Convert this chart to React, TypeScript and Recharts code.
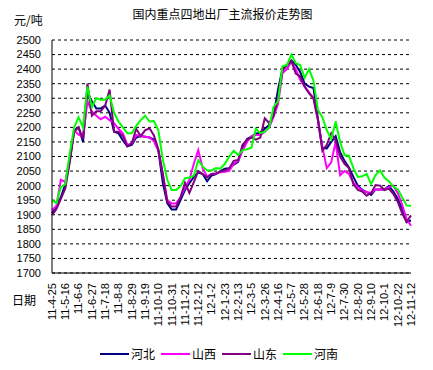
import React from 'react';
import { LineChart, Line, XAxis, YAxis, CartesianGrid } from 'recharts';

const title = '国内重点四地出厂主流报价走势图';
const yUnit = '元/吨';
const xName = '日期';

// weekly categories starting 2011-04-25
const dates: string[] = Array.from({ length: 82 }, (_, i) => {
  const d = new Date(2011, 3, 25 + 7 * i);
  return `${d.getFullYear() % 100}-${d.getMonth() + 1}-${d.getDate()}`;
});

const tickLabels = [
  '11-4-25', '11-5-16', '11-6-6', '11-6-27', '11-7-18', '11-8-8', '11-8-29', '11-9-19',
  '11-10-10', '11-10-31', '11-11-21', '11-12-12', '12-1-2', '12-1-23', '12-2-13', '12-3-5',
  '12-3-26', '12-4-16', '12-5-7', '12-5-28', '12-6-18', '12-7-9', '12-7-30', '12-8-20',
  '12-9-10', '12-10-1', '12-10-22', '12-11-12',
];

const yTicks = [1700, 1750, 1800, 1850, 1900, 1950, 2000, 2050, 2100, 2150, 2200, 2250, 2300, 2350, 2400, 2450, 2500];

const hebei = [
  1905, 1928, 1960, 2005, 2085, 2190, 2200, 2150, 2320, 2290, 2265, 2265, 2275, 2250, 2185, 2180,
  2155, 2135, 2140, 2165, 2170, 2168, 2165, 2158, 2120, 2010, 1940, 1918, 1918, 1950, 1985, 2008,
  2030, 2045, 2040, 2015, 2035, 2040, 2050, 2058, 2060, 2072, 2082, 2130, 2160, 2168, 2178, 2182,
  2195, 2208, 2240, 2330, 2400, 2415, 2430, 2415, 2390, 2350, 2340, 2335, 2230, 2130, 2128, 2150,
  2170, 2115, 2085, 2062, 2030, 2000, 1985, 1978, 1968, 1987, 1987, 1987, 1998, 1980, 1955, 1920,
  1875, 1880,
];

const shanxi = [
  1916, 1930, 2020, 2013, 2095, 2190, 2175, 2168, 2290, 2255, 2240, 2228, 2237, 2225, 2214, 2195,
  2180, 2140, 2145, 2174, 2170, 2168, 2166, 2152, 2120, 2040, 1950, 1939, 1939, 1960, 1993, 2020,
  2075, 2122, 2060, 2031, 2040, 2042, 2046, 2048, 2051, 2075, 2085, 2120, 2150, 2170, 2174, 2174,
  2185, 2200, 2237, 2280, 2386, 2400, 2425, 2400, 2363, 2340, 2320, 2300, 2225, 2134, 2060, 2080,
  2150, 2036, 2050, 2040, 2010, 1995, 1983, 1978, 1975, 1987, 1987, 1987, 1995, 2000, 1975, 1935,
  1885, 1862,
];

const shandong = [
  1899, 1920, 1955, 1990, 2080, 2185, 2200, 2160, 2350, 2240, 2255, 2255, 2275, 2330, 2185, 2185,
  2170, 2135, 2145, 2195, 2170, 2190, 2197, 2172, 2125, 2040, 1945, 1928, 1928, 1960, 2010, 1975,
  2012, 2050, 2040, 2028, 2040, 2042, 2048, 2052, 2060, 2085, 2088, 2140, 2157, 2165, 2158, 2165,
  2231, 2215, 2240, 2300, 2395, 2412, 2428, 2385, 2375, 2340, 2317, 2300, 2225, 2120, 2140, 2180,
  2155, 2100, 2075, 2060, 2005, 1985, 1980, 1965, 1975, 2002, 2000, 1985, 1990, 1972, 1945, 1905,
  1875, 1898,
];

const henan = [
  1950, 1940, 1995, 2005, 2110, 2200, 2235, 2200, 2340, 2270, 2300, 2295, 2295, 2310, 2250, 2220,
  2200, 2180, 2180, 2205, 2225, 2240, 2220, 2222, 2190, 2090, 2020, 1985, 1985, 1998, 2025, 2028,
  2035, 2088, 2065, 2052, 2052, 2060, 2058, 2075, 2100, 2120, 2105, 2122, 2125, 2130, 2195, 2180,
  2185, 2200, 2270, 2290, 2410, 2414, 2450, 2420, 2414, 2370, 2400, 2360, 2260, 2235, 2190, 2160,
  2220, 2150, 2105, 2102, 2060, 2030, 2032, 2040, 2005, 2036, 2052, 2028, 2015, 1996, 1988, 1960,
  1932, 1930,
];

const seriesNames = ['河北', '山西', '山东', '河南'];
const seriesColors = ['#000080', '#FF00FF', '#800080', '#00FF00'];

const data = dates.map((date, i) => ({
  date,
  hebei: hebei[i],
  shanxi: shanxi[i],
  shandong: shandong[i],
  henan: henan[i],
}));

const keys = ['hebei', 'shanxi', 'shandong', 'henan'];
const font = 'Arial, "Liberation Sans", sans-serif';
const cjk = '"Noto Sans CJK SC", sans-serif';

const XTick = (props: any) => {
  const { x, y, payload } = props;
  return (
    <text
      x={x}
      y={y}
      transform={`rotate(-90, ${x}, ${y})`}
      textAnchor="end"
      dy="0.35em"
      fontSize={11}
      fontFamily={font}
      fill="#000"
    >
      {payload.value}
    </text>
  );
};

export default function App() {
  return (
    <div style={{ position: 'absolute', left: 0, top: 0, width: 433, height: 370, background: '#fff' }}>
      <div style={{ position: 'absolute', left: 0, width: 445, top: 6, textAlign: 'center', fontFamily: cjk, fontSize: 12, lineHeight: '16px', color: '#000' }}>
        {title}
      </div>
      <div style={{ position: 'absolute', left: 14, top: 12, fontFamily: cjk, fontSize: 12, lineHeight: '16px', color: '#000' }}>
        {yUnit}
      </div>
      <div style={{ position: 'absolute', left: 12, top: 292, fontFamily: cjk, fontSize: 12, lineHeight: '16px', color: '#000' }}>
        {xName}
      </div>
      <LineChart width={433} height={370} data={data} margin={{ top: 40, right: 22, left: 0, bottom: 0 }}>
        <CartesianGrid vertical={false} stroke="#000" strokeDasharray="3 3" />
        <XAxis
          dataKey="date"
          ticks={tickLabels}
          interval={0}
          tick={<XTick />}
          tickLine={false}
          tickSize={0}
          tickMargin={10}
          axisLine={{ stroke: '#000' }}
          height={97}
        />
        <YAxis
          domain={[1700, 2500]}
          ticks={yTicks}
          interval={0}
          width={52}
          tickLine={false}
          tickSize={6}
          tickMargin={5}
          axisLine={{ stroke: '#000' }}
          tick={{ fontSize: 11, fontFamily: font, fill: '#000' }}
        />
        {keys.map((k, i) => (
          <Line
            key={k}
            dataKey={k}
            name={seriesNames[i]}
            stroke={seriesColors[i]}
            strokeWidth={2}
            dot={false}
            type="linear"
            isAnimationActive={false}
          />
        ))}
      </LineChart>
      <div style={{ position: 'absolute', left: 100, top: 346, display: 'flex', fontFamily: cjk, fontSize: 12, lineHeight: '16px', color: '#000' }}>
        {seriesNames.map((n, i) => (
          <div key={n} style={{ display: 'flex', alignItems: 'center', marginRight: 6 }}>
            <svg width={29} height={4} style={{ marginRight: 2 }}>
              <line x1={0} y1={2} x2={29} y2={2} stroke={seriesColors[i]} strokeWidth={2} />
            </svg>
            <span>{n}</span>
          </div>
        ))}
      </div>
    </div>
  );
}
